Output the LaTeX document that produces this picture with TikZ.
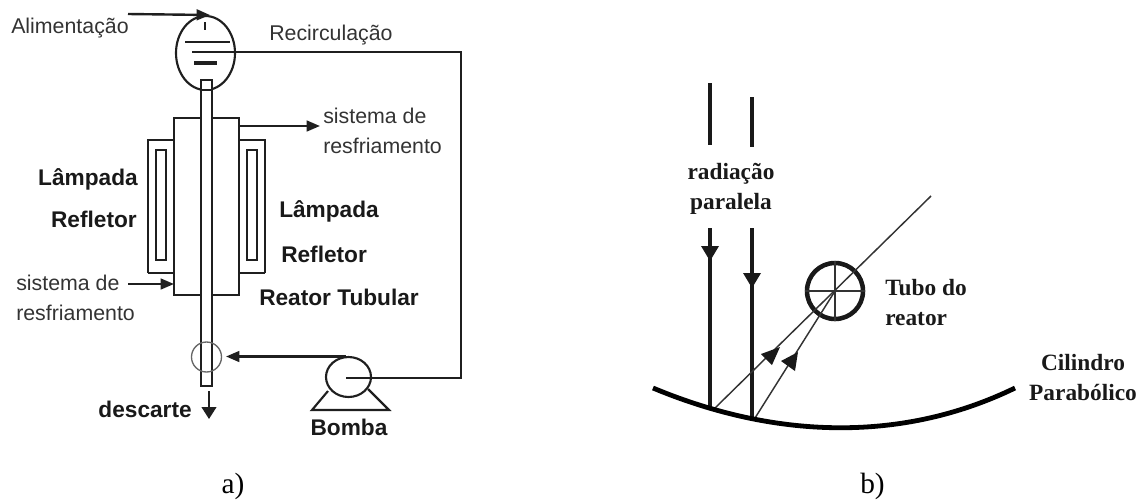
\documentclass[tikz,border=0pt]{standalone}
\usepackage{fontspec}
\setmainfont{Liberation Serif}
\setsansfont{Liberation Sans}
\usetikzlibrary{arrows.meta,shapes.geometric}
\tikzset{
  ln/.style={draw=black!88,line width=1.6pt},
  thin line/.style={draw=black!80,line width=1pt},
  arr/.style={ln,line width=1.8pt,-{Triangle[length=10pt,width=8pt]}},
  lab/.style={font=\sffamily\fontsize{16}{19}\selectfont,text=black!80,align=left,inner sep=0pt},
  blab/.style={font=\sffamily\bfseries\fontsize{17}{20}\selectfont,text=black!90,inner sep=0pt},
  slab/.style={font=\bfseries\fontsize{17.5}{22.5}\selectfont,text=black!90,align=center,inner sep=0pt},
  captext/.style={font=\fontsize{22}{25}\selectfont,inner sep=0pt},
  ray/.style={draw=black!90,line width=2.5pt},
}
\begin{document}
\begin{tikzpicture}[x=0.75pt,y=-0.75pt]
\useasboundingbox (0,0) rectangle (1142,501);
% --- a) ---
\node[ln,draw,ellipse,minimum width=59*0.75pt,minimum height=74*0.75pt,inner sep=0pt] (vessel) at (205.5,53) {};
\coordinate (feedS) at (128,14);
\coordinate (feedE) at (210,15);
\draw[arr] (feedS) -- (feedE);
\coordinate (d1) at (205,22); \coordinate (d2) at (205,30);
\draw[ln] (d1) -- (d2);
\draw[ln] (185,42) -- (230,42);
\draw[ln,line width=2.8pt] (194,63) -- (217,63);
\coordinate (recS) at (192,52);
\coordinate (corner1) at (461,52);
\coordinate (corner2) at (461,378);
\coordinate (pumpC) at (346,378);
\draw[ln,line join=miter] (recS) -- (corner1) -- (corner2) -- (pumpC);
% jacket & lamps
\draw[ln] (148,273) -- (148,140) -- (174,140);
\draw[ln] (148,273) -- (174,273);
\draw[ln] (156,260) rectangle (166,150);
\draw[ln] (265,273) -- (265,140) -- (239,140);
\draw[ln] (265,273) -- (239,273);
\draw[ln] (247,260) rectangle (257,150);
\draw[ln] (174,118) rectangle (239,295);
% tube
\draw[ln,fill=white] (201,80) rectangle (212,386);
\draw[ln] (201,90) -- (212,90);
% cooling arrows
\coordinate (cool1) at (239,126);
\coordinate (cool1e) at (320,126);
\draw[arr] (cool1) -- (cool1e);
\coordinate (cool2) at (128,284);
\coordinate (cool2e) at (174,284);
\draw[arr] (cool2) -- (cool2e);
% injection
\node[draw=black!60,line width=1pt,circle,minimum size=30*0.75pt,inner sep=0pt] (inj) at (206.5,357) {};
% pump
\node[ln,draw,ellipse,minimum width=45*0.75pt,minimum height=40*0.75pt,inner sep=0pt] (pump) at (348.5,377) {};
\coordinate (pumpTop) at (346,356.5);
\coordinate (injE) at (226,356.5);
\draw[arr] (pumpTop) -- (injE);
\draw[ln] (328,391) -- (312,410) -- (389,410) -- (368,389);
% discharge
\coordinate (dS) at (209,391); \coordinate (dE) at (209,419);
\draw[ln,-{Triangle[length=9pt,width=11pt]}] (dS) -- (dE);
% labels
\node[lab,anchor=west] (t1) at (11,28) {Alimentação};
\node[lab,anchor=west] (t2) at (269,35) {Recirculação};
\node[lab,anchor=north west] (t3) at (323,108) {sistema de\\[3pt]resfriamento};
\node[lab,anchor=north west] (t4) at (16,275) {sistema de\\[3pt]resfriamento};
\node[blab,anchor=east] (t5) at (138,179) {Lâmpada};
\node[blab,anchor=east] (t6) at (137,219) {Refletor};
\node[blab,anchor=west] (t7) at (279,211) {Lâmpada};
\node[blab,anchor=west] (t8) at (281,254) {Refletor};
\node[blab,anchor=west] (t9) at (259,297) {Reator Tubular};
\node[blab,anchor=east] (t10) at (192,409) {descarte};
\node[blab] (t11) at (349,427) {Bomba};
\node[captext] (ca) at (233,486) {a)};
% --- b) ---
\coordinate (r1a) at (710,83); \coordinate (r1b) at (710,145);
\coordinate (r2a) at (752,97); \coordinate (r2b) at (752,147);
\draw[ray] (r1a) -- (r1b);
\draw[ray] (r2a) -- (r2b);
\coordinate (r1c) at (710,228); \coordinate (r1d) at (710,409);
\coordinate (r2c) at (752,228); \coordinate (r2d) at (752,419);
\draw[ray] (r1c) -- (r1d);
\draw[ray] (r2c) -- (r2d);
\fill[black!90] (701,246) -- (719,246) -- (710,261) -- cycle;
\fill[black!90] (743,273) -- (761,273) -- (752,288) -- cycle;
\node[draw=black!90,line width=3.4pt,circle,minimum size=56*0.75pt,inner sep=0pt] (tube) at (835,291) {};
\draw[thin line] (tube.north) -- (tube.south);
\draw[thin line] (tube.west) -- (tube.east);
\coordinate (ray1s) at (714,409);
\coordinate (ray2s) at (755,418);
\coordinate (rayEnd) at (931,196);
\draw[draw=black!80,line width=1.1pt] (ray1s) -- (rayEnd);
\draw[draw=black!80,line width=1.1pt] (ray2s) -- (tube.center);
\fill[black!90] (780,347) -- (761,354) -- (772,365) -- cycle;
\fill[black!90] (798,352) -- (781,361) -- (795,371) -- cycle;
\coordinate (pA) at (653,388);
\coordinate (pB) at (1015,388);
\draw[draw=black,line width=3.6pt] (pA) .. controls (780,441) and (906,441) .. (pB);
\node[slab] (u2) at (731,189) {radiação\\paralela};
\node[slab,align=left,anchor=west] (u3) at (885,303) {Tubo do\\reator};
\node[slab] (u4) at (1083,378) {Cilindro\\Parabólico};
\node[captext] (cb) at (872.5,486) {b)};
\end{tikzpicture}
\end{document}
